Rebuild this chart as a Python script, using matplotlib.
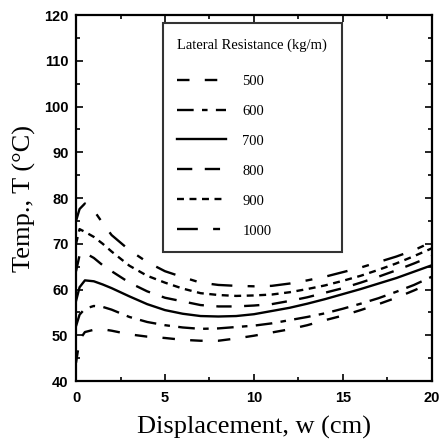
import numpy as np
import matplotlib
matplotlib.use("Agg")
import matplotlib.pyplot as plt
from matplotlib.ticker import MultipleLocator

# values
disp = [0, 0.2, 0.5, 1, 1.5, 2, 3, 4, 5, 6, 7, 8, 9, 10,
        11, 12, 13, 14, 15, 16, 17, 18, 19, 20]
t500 = [44.0, 49.0, 50.7, 51.2, 51.3, 51.0, 50.2, 49.7, 49.4, 49.0, 48.8, 48.8, 49.3, 49.9,
        50.6, 51.3, 52.2, 53.3, 54.3, 55.5, 56.8, 58.2, 59.8, 61.5]
t600 = [52.0, 54.5, 55.8, 56.4, 56.2, 55.6, 54.0, 52.9, 52.2, 51.7, 51.4, 51.5, 51.8, 52.1,
        52.6, 53.3, 54.0, 54.8, 55.8, 56.9, 58.1, 59.5, 61.0, 62.8]
t700 = [57.5, 60.5, 62.0, 61.8, 61.1, 60.3, 58.5, 56.8, 55.5, 54.7, 54.2, 54.1, 54.2, 54.6,
        55.3, 56.0, 56.9, 57.9, 59.0, 60.1, 61.3, 62.5, 63.9, 65.3]
t800 = [64.0, 67.5, 68.0, 66.9, 65.3, 64.0, 61.5, 59.6, 58.2, 57.4, 56.6, 56.3, 56.3, 56.5,
        56.8, 57.5, 58.3, 59.3, 60.3, 61.5, 62.8, 64.2, 65.7, 67.3]
t900 = [70.0, 73.2, 72.6, 71.5, 70.0, 68.3, 65.2, 63.0, 61.5, 60.2, 59.2, 58.8, 58.6, 58.7,
        58.9, 59.4, 60.1, 60.9, 61.9, 63.0, 64.3, 65.7, 67.3, 69.0]
t1000 = [75.0, 77.6, 78.8, 77.3, 74.5, 71.9, 68.6, 66.0, 64.0, 62.7, 61.5, 61.0, 60.8, 60.7,
         60.8, 61.3, 62.0, 62.8, 63.8, 64.8, 66.0, 67.2, 68.6, 70.4]
labels = ["500", "600", "700", "800", "900", "1000"]

plt.rcParams["lines.scale_dashes"] = False
styles = [(0, (9, 11)), (0, (12, 6, 4, 6)), "-", (0, (11, 9)), (0, (5, 4)), (0, (15, 11, 5, 11))]

fig = plt.figure(figsize=(4.42, 4.42), dpi=100)
ax = fig.add_axes([0.172, 0.138, 0.805, 0.828])

for temps, lab, ls in zip([t500, t600, t700, t800, t900, t1000], labels, styles):
    ax.plot(disp, temps, color="black", lw=1.7, ls=ls, label=lab)

ax.set_xlim(0, 20)
ax.set_ylim(40, 120)
ax.xaxis.set_major_locator(MultipleLocator(5))
ax.xaxis.set_minor_locator(MultipleLocator(2.5))
ax.yaxis.set_major_locator(MultipleLocator(10))
ax.yaxis.set_minor_locator(MultipleLocator(5))
ax.tick_params(which="both", direction="in", top=True, right=True, width=1.2)
ax.tick_params(which="major", length=5)
ax.tick_params(which="minor", length=3)
ax.tick_params(axis="x", pad=7)
ax.tick_params(axis="y", pad=5.5)
for sp in ax.spines.values():
    sp.set_linewidth(1.6)
for t in ax.get_xticklabels() + ax.get_yticklabels():
    t.set_fontfamily("Liberation Sans")
    t.set_fontweight("bold")
    t.set_fontsize(10.5)

ax.set_xlabel("Displacement, w (cm)", family="Liberation Serif", fontsize=19, labelpad=8)
ax.set_ylabel("Temp., T (\u00b0C)", family="Liberation Serif", fontsize=19, labelpad=6)

leg = ax.legend(title="Lateral Resistance (kg/m)", loc="upper left",
                bbox_to_anchor=(0.244, 0.977), alignment="left",
                prop={"family": "Liberation Serif", "size": 10.5},
                title_fontproperties={"family": "Liberation Serif", "size": 10.5},
                handlelength=3.3, handletextpad=1.15, labelspacing=1.15,
                borderpad=1.0, borderaxespad=0, fancybox=False)
leg._legend_box.sep = 16.5  # extra room under the legend title
leg.get_frame().set_edgecolor("black")
leg.get_frame().set_linewidth(1.5)

fig.savefig("out.png", dpi=100)
